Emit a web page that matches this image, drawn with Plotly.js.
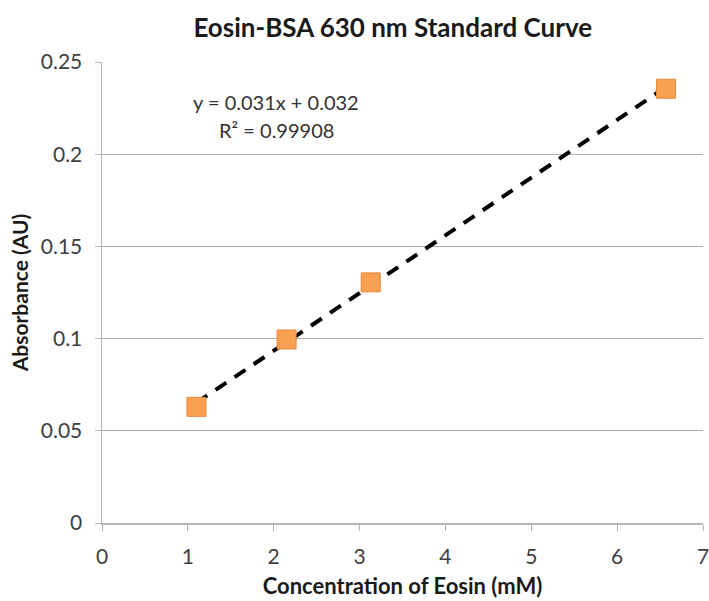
<!DOCTYPE html>
<html>
<head>
<meta charset="utf-8">
<script src="https://cdn.plot.ly/plotly-3.0.1.min.js"></script>
<style>html,body{margin:0;padding:0;background:#fff;}#chart{width:709px;height:601px;}</style>
</head>
<body>
<div id="chart"></div>
<script>
// Data
const concentration = [1.1, 2.15, 3.13, 6.57];   // mM
const absorbance = [0.063, 0.0995, 0.1305, 0.2355]; // AU
const equationText = "y = 0.031x + 0.032";
const r2Text = "R² = 0.99908";
const xTicks = [0, 1, 2, 3, 4, 5, 6, 7];
const yTicks = [0, 0.05, 0.1, 0.15, 0.2, 0.25];
const yTickText = ['0', '0.05', '0.1', '0.15', '0.2', '0.25'];

// Least-squares fit computed from the data
const n = concentration.length;
const mx = concentration.reduce((a, b) => a + b, 0) / n;
const my = absorbance.reduce((a, b) => a + b, 0) / n;
let sxy = 0, sxx = 0;
for (let i = 0; i < n; i++) { sxy += (concentration[i] - mx) * (absorbance[i] - my); sxx += (concentration[i] - mx) ** 2; }
const slope = sxy / sxx, intercept = my - slope * mx;
const fitX = [Math.min(...concentration), Math.max(...concentration)];
const fitY = fitX.map(x => slope * x + intercept);

const font = "Lato, 'Open Sans', sans-serif";
const traces = [
  { x: fitX, y: fitY, mode: 'lines', line: { color: '#000', width: 4, dash: '13px,10px' }, hoverinfo: 'skip' },
  { x: concentration, y: absorbance, mode: 'markers',
    marker: { symbol: 'square', size: 19, color: '#F9A052', line: { color: '#E98A3C', width: 1 } } }
];
const layout = {
  width: 709, height: 601, showlegend: false,
  paper_bgcolor: '#fff', plot_bgcolor: '#fff',
  margin: { l: 102, r: 6, t: 62, b: 78 },
  title: { text: '<b>Eosin-BSA 630 nm Standard Curve</b>', x: 0.554, xanchor: 'center', y: 0.953, yanchor: 'middle',
    font: { family: font, size: 26, color: '#1a1a1a' } },
  xaxis: { range: [0, 7], tickvals: xTicks, ticktext: xTicks.map(String), showgrid: false, zeroline: false,
    showline: true, linecolor: '#b5b5b5', linewidth: 1.5, ticks: 'outside', ticklen: 6, tickcolor: '#b5b5b5',
    ticklabelstandoff: 8, ticklabeloverflow: 'allow',
    tickfont: { family: font, size: 21, color: '#404040' },
    title: { text: '<b>Concentration of Eosin (mM)</b>', font: { family: font, size: 22, color: '#1a1a1a' }, standoff: 12 } },
  yaxis: { range: [0, 0.25], tickvals: yTicks, ticktext: yTickText,
    showgrid: true, gridcolor: '#b0b0b0', gridwidth: 1, zeroline: false,
    showline: true, linecolor: '#b5b5b5', linewidth: 1.5, ticks: 'outside', ticklen: 6, tickcolor: '#b5b5b5',
    ticklabelstandoff: 8,
    tickfont: { family: font, size: 21, color: '#404040' },
    title: { text: '<b>Absorbance (AU)</b>', font: { family: font, size: 21, color: '#1a1a1a' }, standoff: 6 } },
  annotations: [
    { xref: 'paper', yref: 'paper', x: 0.29, y: 0.913, text: equationText, showarrow: false, xanchor: 'center', yanchor: 'middle',
      font: { family: font, size: 20, color: '#333' } },
    { xref: 'paper', yref: 'paper', x: 0.29, y: 0.852, text: r2Text, showarrow: false, xanchor: 'center', yanchor: 'middle',
      font: { family: font, size: 20, color: '#333' } }
  ]
};
Plotly.newPlot('chart', traces, layout, { displayModeBar: false, staticPlot: true });
</script>
</body>
</html>
